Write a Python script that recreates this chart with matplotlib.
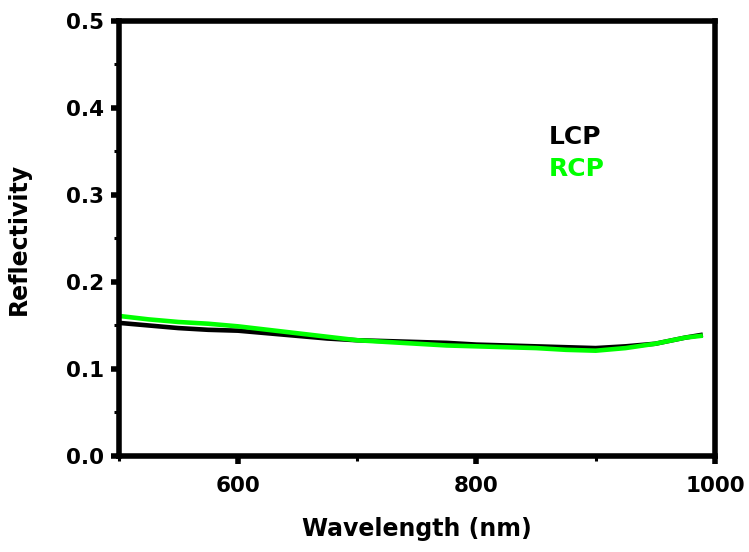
import matplotlib.pyplot as plt
from matplotlib.ticker import MultipleLocator

plt.rcParams['font.family'] = 'DejaVu Sans'
plt.rcParams['font.weight'] = 'bold'

# wavelength grid (nm) and reflectivity
wl = [500, 525, 550, 575, 600, 625, 650, 675, 700, 725, 750,
      775, 800, 825, 850, 875, 900, 925, 950, 975, 988]
lcp = [0.153, 0.150, 0.147, 0.145, 0.144, 0.141, 0.138, 0.135, 0.133, 0.132, 0.131,
       0.130, 0.128, 0.127, 0.126, 0.125, 0.124, 0.126, 0.129, 0.136, 0.139]
rcp = [0.161, 0.157, 0.154, 0.152, 0.149, 0.145, 0.141, 0.137, 0.133, 0.131, 0.129,
       0.127, 0.126, 0.125, 0.124, 0.122, 0.121, 0.124, 0.129, 0.136, 0.138]

fig = plt.figure(figsize=(7.49, 5.52), dpi=100)
ax = fig.add_axes([0.1585, 0.174, 0.796, 0.788])

ax.plot(wl, lcp, color='black', lw=3.3)
ax.plot(wl, rcp, color='#00ff00', lw=3.3)

ax.set_xlim(500, 1000)
ax.set_ylim(0, 0.5)
ax.xaxis.set_major_locator(MultipleLocator(200))
ax.xaxis.set_minor_locator(MultipleLocator(100))
ax.yaxis.set_major_locator(MultipleLocator(0.1))
ax.yaxis.set_minor_locator(MultipleLocator(0.05))
ax.yaxis.set_major_formatter(plt.FormatStrFormatter('%.1f'))

for s in ax.spines.values():
    s.set_linewidth(4)
ax.tick_params(which='major', direction='out', length=5.6, width=4, labelsize=15.5)
ax.tick_params(which='minor', direction='out', length=3.5, width=2.2)
ax.tick_params(axis='x', which='major', pad=9)
ax.tick_params(axis='y', which='major', pad=5)
ax.tick_params(top=False, right=False)

ax.set_xlabel('Wavelength (nm)', fontsize=17, fontweight='bold', labelpad=15)
ax.set_ylabel('Reflectivity', fontsize=17, fontweight='bold', labelpad=25)

ax.text(0.7215, 0.733, 'LCP', transform=ax.transAxes, fontsize=18,
        fontweight='bold', color='black', va='center')
ax.text(0.7215, 0.660, 'RCP', transform=ax.transAxes, fontsize=18,
        fontweight='bold', color='#00ff00', va='center')

fig.savefig('out.png', dpi=100)
